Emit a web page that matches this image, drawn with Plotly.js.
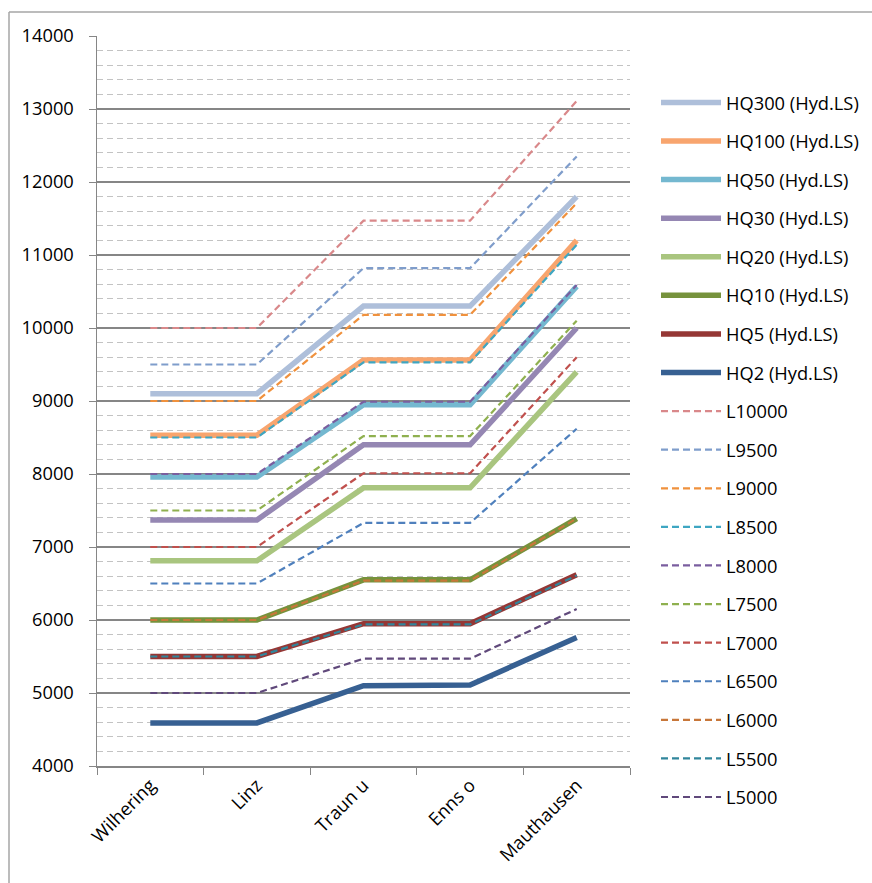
<!DOCTYPE html>
<html>
<head>
<meta charset="utf-8">
<script src="https://cdn.plot.ly/plotly-3.0.1.min.js"></script>
<style>
  html, body { margin: 0; padding: 0; background: #fff; }
  #chart { width: 872px; height: 883px; }
</style>
</head>
<body>
<div id="chart"></div>
<script>
// Gauging stations along the Danube (downstream order)
const stations = ["Wilhering", "Linz", "Traun u", "Enns o", "Mauthausen"];

// Design discharges from the hydrological longitudinal section (m³/s)
const hq300 = [9100, 9100, 10300, 10300, 11800];
const hq100 = [8530, 8530, 9560, 9560, 11200];
const hq50  = [7960, 7960, 8950, 8950, 10570];
const hq30  = [7370, 7370, 8400, 8400, 10000];
const hq20  = [6810, 6810, 7810, 7810, 9400];
const hq10  = [6000, 6000, 6550, 6550, 7390];
const hq5   = [5500, 5500, 5950, 5950, 6620];
const hq2   = [4590, 4590, 5100, 5110, 5760];

// Discharge lines referenced to Wilhering
const l10000 = [10000, 10000, 11470, 11470, 13110];
const l9500  = [9500, 9500, 10820, 10820, 12350];
const l9000  = [9000, 9000, 10180, 10180, 11710];
const l8500  = [8500, 8500, 9530, 9530, 11140];
const l8000  = [8000, 8000, 8990, 8990, 10590];
const l7500  = [7500, 7500, 8520, 8520, 10100];
const l7000  = [7000, 7000, 8010, 8010, 9600];
const l6500  = [6500, 6500, 7330, 7330, 8620];
const l6000  = [6000, 6000, 6540, 6540, 7390];
const l5500  = [5500, 5500, 5940, 5940, 6610];
const l5000  = [5000, 5000, 5470, 5470, 6150];

const hqSeries = [
  ["HQ300 (Hyd.LS)", hq300, "#aebfda"],
  ["HQ100 (Hyd.LS)", hq100, "#f8a56e"],
  ["HQ50 (Hyd.LS)",  hq50,  "#74b8d0"],
  ["HQ30 (Hyd.LS)",  hq30,  "#9587b3"],
  ["HQ20 (Hyd.LS)",  hq20,  "#a9c57f"],
  ["HQ10 (Hyd.LS)",  hq10,  "#76923c"],
  ["HQ5 (Hyd.LS)",   hq5,   "#953735"],
  ["HQ2 (Hyd.LS)",   hq2,   "#376092"]
];

const lSeries = [
  ["L10000", l10000, "#d9888a"],
  ["L9500",  l9500,  "#7f9dcb"],
  ["L9000",  l9000,  "#f0913d"],
  ["L8500",  l8500,  "#3ea6c2"],
  ["L8000",  l8000,  "#7a5e9f"],
  ["L7500",  l7500,  "#8fb04f"],
  ["L7000",  l7000,  "#c0504d"],
  ["L6500",  l6500,  "#4f80bd"],
  ["L6000",  l6000,  "#c8773a"],
  ["L5500",  l5500,  "#31869c"],
  ["L5000",  l5000,  "#60497b"]
];

const traces = [];
hqSeries.forEach(([name, ys, color], i) => {
  traces.push({
    type: "scatter", mode: "lines", name: name,
    x: stations, y: ys, legendgroup: "g" + i,
    line: { color: color, width: 5.5 }
  });
});
lSeries.forEach(([name, ys, color], i) => {
  traces.push({
    type: "scatter", mode: "lines", name: name,
    x: stations, y: ys, legendgroup: "l" + i,
    line: { color: color, width: 2.2, dash: "7px,4px" }
  });
});

// Plot area in pixels
const L = 97, R = 630, T = 36, B = 766;
const W = R - L, H = B - T;
const px = v => (v - L) / W;
const py = v => (B - v) / H;

const layout = {
  width: 872, height: 883,
  margin: { l: L, r: 872 - R, t: T, b: 883 - B, autoexpand: false },
  paper_bgcolor: "#ffffff", plot_bgcolor: "#ffffff",
  font: { family: "Open Sans, Noto Sans, sans-serif", size: 18.3, color: "#000" },
  showlegend: true,
  legend: {
    x: px(656), y: py(84), xanchor: "left", yanchor: "top",
    traceorder: "grouped", tracegroupgap: 11.8, itemwidth: 60,
    maxheight: 900,
    font: { size: 18.3 }, bgcolor: "rgba(0,0,0,0)"
  },
  xaxis: {
    type: "category", range: [-0.5, 4.5],
    tickangle: -45, tickson: "boundaries",
    ticks: "outside", ticklen: 7, tickcolor: "#868686",
    showline: true, linecolor: "#868686", linewidth: 1.5,
    showgrid: false, zeroline: false, fixedrange: true
  },
  yaxis: {
    range: [4000, 14000], dtick: 1000, tick0: 4000, tickformat: "d",
    ticks: "outside", ticklen: 7, tickcolor: "#868686", ticklabelstandoff: 11,
    showline: true, linecolor: "#868686", linewidth: 1.5,
    showgrid: true, gridcolor: "#868686", gridwidth: 1.3,
    zeroline: false, fixedrange: true,
    minor: { dtick: 200, showgrid: true, gridcolor: "#c3c3c3", gridwidth: 1.2, griddash: "6px,4px", ticks: "" }
  },
  shapes: [
    // chart frame (top and left edges)
    { type: "line", xref: "paper", yref: "paper", x0: px(9), x1: px(872), y0: py(12), y1: py(12),
      line: { color: "#a6a6a6", width: 1.5 } },
    { type: "line", xref: "paper", yref: "paper", x0: px(9), x1: px(9), y0: py(12), y1: py(883),
      line: { color: "#a6a6a6", width: 1.5 } }
  ]
};

Plotly.newPlot("chart", traces, layout, { displayModeBar: false, staticPlot: true });
</script>
</body>
</html>
